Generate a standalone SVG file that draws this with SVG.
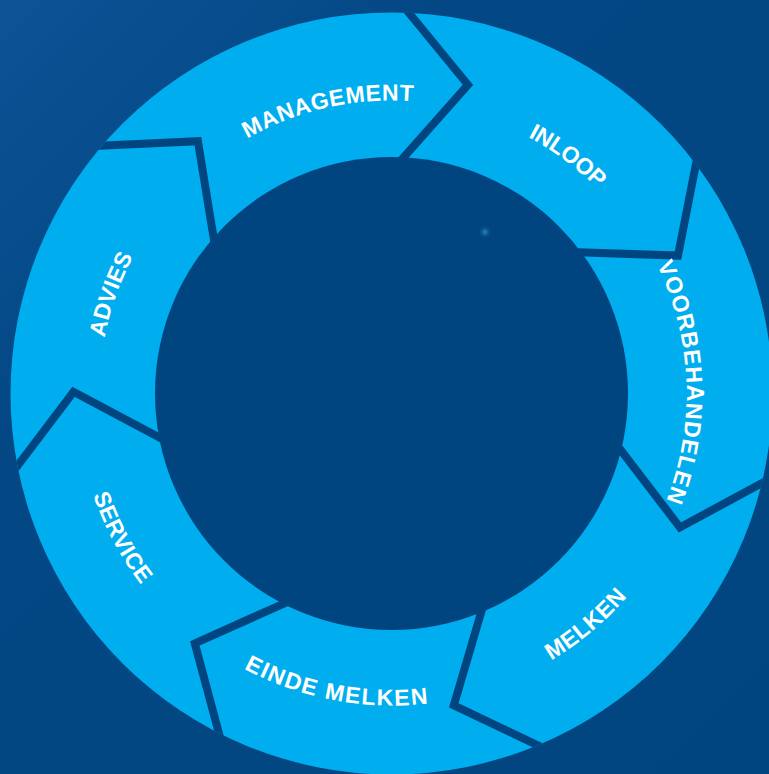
<svg xmlns="http://www.w3.org/2000/svg" xmlns:xlink="http://www.w3.org/1999/xlink" width="769" height="774" viewBox="0 0 769 774">
  <style>
    .ring { fill: #00adef; }
    .hole { fill: #014580; }
    .sep { fill: none; stroke: #014580; stroke-width: 8; stroke-linejoin: miter; stroke-miterlimit: 10; }
    .lbl { font-family: "Liberation Sans", Arial, sans-serif; font-weight: bold; font-size: 23px; fill: #ffffff; }
  </style>
  <defs>
    <linearGradient id="bg" x1="0" y1="0" x2="1" y2="1">
      <stop offset="0" stop-color="#0d5396"/>
      <stop offset="0.3" stop-color="#034784"/>
      <stop offset="1" stop-color="#014580"/>
    </linearGradient>
    <radialGradient id="glow">
      <stop offset="0" stop-color="#2a86c8"/>
      <stop offset="1" stop-color="#014580" stop-opacity="0"/>
    </radialGradient>
    <clipPath id="ringClip">
      <circle cx="391.5" cy="393.5" r="381"/>
    </clipPath>
    <!-- clockwise label paths (letters face outward) -->
    <path id="p-management" d="M103.6,457.8 A295,295 0 0 1 679.4,329.2"/>
    <path id="p-inloop" d="M154.5,217.9 A295,295 0 0 1 628.5,569.1"/>
    <path id="p-voorbehandelen" d="M380.2,98.7 A295,295 0 0 1 402.8,688.3"/>
    <path id="p-advies" d="M292.7,672.5 A296,296 0 0 1 490.3,114.5"/>
    <!-- counter-clockwise label paths (letters face inward) -->
    <path id="p-melken" d="M149.8,597.0 A316,316 0 0 0 633.2,190.0"/>
    <path id="p-einde" d="M81.9,335.5 A315,315 0 0 0 701.1,451.5"/>
    <path id="p-service" d="M241.3,112.1 A319,319 0 0 0 541.7,674.9"/>
  </defs>

  <rect width="769" height="774" fill="url(#bg)"/>

  <g id="ring">
    <circle class="ring" cx="391.5" cy="393.5" r="381"/>
  </g>

  <g id="connectors" clip-path="url(#ringClip)">
    <polyline class="sep" points="396.3,165.6 467.9,84.8 399.7,1.6"/>
    <polyline class="sep" points="570.2,251.9 678.0,255.6 698.7,150.0"/>
    <polyline class="sep" points="614.4,441.7 679.9,527.4 774.6,476.3"/>
    <polyline class="sep" points="484.2,601.8 453.8,705.3 550.9,751.6"/>
    <polyline class="sep" points="293.3,599.3 194.8,643.4 222.7,747.3"/>
    <polyline class="sep" points="168.8,442.5 73.5,391.8 8.6,477.7"/>
    <polyline class="sep" points="215.4,248.7 197.9,141.2 88.6,146.2"/>
  </g>

  <g id="center">
    <circle class="hole" cx="391.5" cy="393.5" r="236.5"/>
    <circle cx="485" cy="232" r="7" fill="url(#glow)"/>
  </g>

  <g id="node-management">
    <text class="lbl" letter-spacing="0.6"><textPath href="#p-management" xlink:href="#p-management" startOffset="50%" text-anchor="middle">MANAGEMENT</textPath></text>
  </g>
  <g id="node-inloop">
    <text class="lbl" letter-spacing="-0.3"><textPath href="#p-inloop" xlink:href="#p-inloop" startOffset="50%" text-anchor="middle">INLOOP</textPath></text>
  </g>
  <g id="node-voorbehandelen">
    <text class="lbl" letter-spacing="1.2"><textPath href="#p-voorbehandelen" xlink:href="#p-voorbehandelen" startOffset="50%" text-anchor="middle">VOORBEHANDELEN</textPath></text>
  </g>
  <g id="node-melken">
    <text class="lbl" letter-spacing="0.5"><textPath href="#p-melken" xlink:href="#p-melken" startOffset="50%" text-anchor="middle">MELKEN</textPath></text>
  </g>
  <g id="node-einde-melken">
    <text class="lbl" letter-spacing="1.5"><textPath href="#p-einde" xlink:href="#p-einde" startOffset="50%" text-anchor="middle">EINDE MELKEN</textPath></text>
  </g>
  <g id="node-service">
    <text class="lbl" letter-spacing="0.3"><textPath href="#p-service" xlink:href="#p-service" startOffset="50%" text-anchor="middle">SERVICE</textPath></text>
  </g>
  <g id="node-advies">
    <text class="lbl" letter-spacing="0.2"><textPath href="#p-advies" xlink:href="#p-advies" startOffset="50%" text-anchor="middle">ADVIES</textPath></text>
  </g>
</svg>
